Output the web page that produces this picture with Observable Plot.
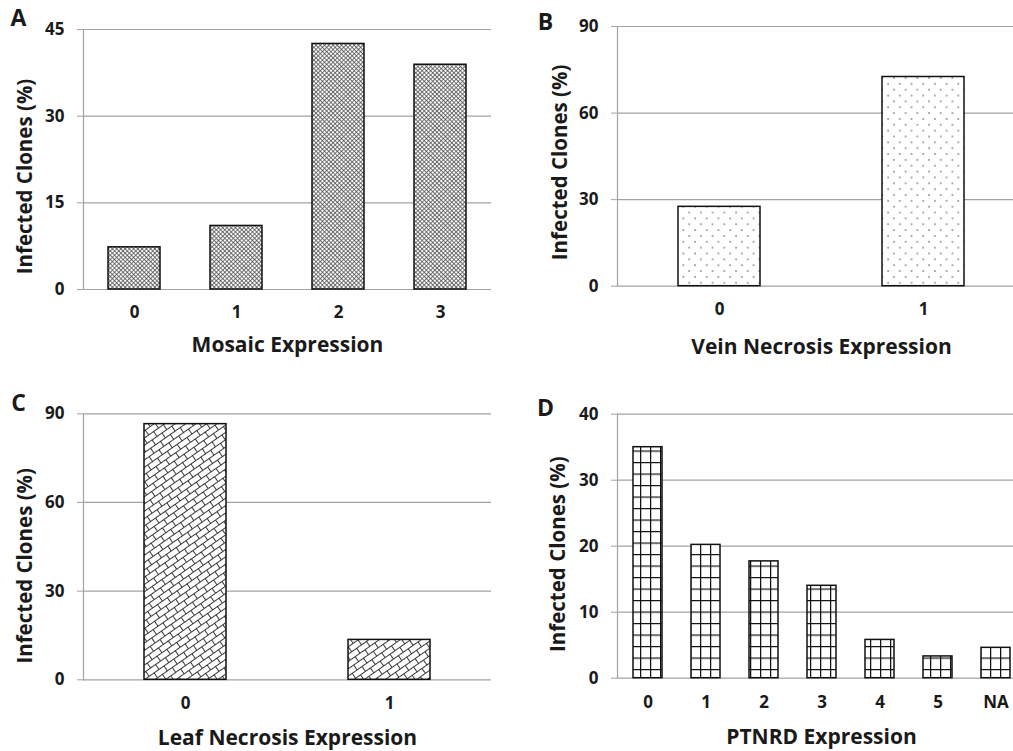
<!DOCTYPE html>
<html>
<head>
<meta charset="utf-8">
<script src="https://cdn.jsdelivr.net/npm/d3@7"></script>
<script src="https://cdn.jsdelivr.net/npm/@observablehq/plot@0.6"></script>
<style>
  html, body { margin: 0; padding: 0; background: #fff; overflow: hidden; }
  #wrap { position: relative; width: 1013px; height: 751px; overflow: hidden; }
  .panel { position: absolute; }
  .panel svg { overflow: hidden; max-width: none !important; }
</style>
</head>
<body>
<svg width="0" height="0" style="position:absolute">
  <defs>
    <pattern id="patA" patternUnits="userSpaceOnUse" width="3" height="3" patternTransform="rotate(45)">
      <rect width="3" height="3" fill="#fff"/>
      <path d="M0,0H3M0,0V3" stroke="#444" stroke-width="1.4"/>
    </pattern>
    <pattern id="patB" patternUnits="userSpaceOnUse" width="11.7" height="11.7">
      <rect width="11.7" height="11.7" fill="#fff"/>
      <circle cx="2" cy="2" r="0.75" fill="#333"/>
      <circle cx="7.85" cy="7.85" r="0.75" fill="#333"/>
    </pattern>
    <pattern id="patC" patternUnits="userSpaceOnUse" width="12" height="12" patternTransform="rotate(-35)">
      <rect width="12" height="12" fill="#fff"/>
      <path d="M0,0.5H12M0,6.5H12M0.5,0.5V6.5M6.5,6.5V12.5" stroke="#222" stroke-width="0.9" fill="none"/>
    </pattern>
    <pattern id="patD" patternUnits="userSpaceOnUse" width="10" height="11.5">
      <rect width="10" height="11.5" fill="#fff"/>
      <path d="M0,0.6H10M0.6,0V11.5" stroke="#111" stroke-width="1.3" fill="none"/>
    </pattern>
  </defs>
</svg>
<div id="wrap"></div>
<script>
// ---- data ----
const mosaicCats = ["0", "1", "2", "3"];
const mosaicVals = [7.3, 11.0, 42.5, 38.9];
const mosaicTicks = [0, 15, 30, 45];

const veinCats = ["0", "1"];
const veinVals = [27.5, 72.5];
const veinTicks = [0, 30, 60, 90];

const leafCats = ["0", "1"];
const leafVals = [86.5, 13.5];
const leafTicks = [0, 30, 60, 90];

const ptnrdCats = ["0", "1", "2", "3", "4", "5", "NA"];
const ptnrdVals = [35.0, 20.2, 17.7, 14.0, 5.8, 3.3, 4.6];
const ptnrdTicks = [0, 10, 20, 30, 40];

const yLabel = "Infected Clones (%)";

const FONT = "'Open Sans', Lato, sans-serif";
const GRID = "#a3a3a3";

function panel(opts) {
  const data = opts.cats.map((c, i) => ({cat: c, val: opts.vals[i]}));
  const ticks = opts.ticks;
  const chart = Plot.plot({
    width: opts.width,
    height: opts.height,
    marginLeft: opts.ml,
    marginRight: opts.mr,
    marginTop: opts.mt,
    marginBottom: opts.mb,
    style: {fontFamily: FONT, fontWeight: "bold", color: "#1a1a1a", background: "transparent", maxWidth: "none"},
    x: {domain: opts.cats, paddingInner: opts.pin, paddingOuter: opts.pin / 2},
    y: {domain: [0, ticks[ticks.length - 1]]},
    marks: [
      Plot.ruleY(ticks, {stroke: GRID, strokeWidth: 1.2}),
      Plot.frame({anchor: "left", stroke: GRID, strokeWidth: 1.2}),
      Plot.barY(data, {x: "cat", y: "val", fill: opts.fill, stroke: "#111", strokeWidth: 1.5}),
      Plot.axisY({ticks, tickSize: 6, tickPadding: 13, stroke: GRID, label: null, fontSize: 17, tickFormat: d => String(d)}),
      Plot.axisX({tickSize: 0, tickPadding: opts.xpad, label: null, fontSize: 17}),
      Plot.text([opts.title], {frameAnchor: "bottom", lineAnchor: "middle", textAnchor: "middle", dy: opts.titleDy, fontSize: 21, fontWeight: "bold"}),
      Plot.text([yLabel], {frameAnchor: "left", textAnchor: "middle", lineAnchor: "middle", rotate: -90, dx: opts.ylDx, dy: opts.ylDy, fontSize: 20.5, fontWeight: "bold"}),
      Plot.text([opts.letter], {frameAnchor: "top-left", textAnchor: "middle", lineAnchor: "middle", dx: opts.letDx, dy: opts.letDy, fontSize: 23, fontWeight: "bold"})
    ]
  });
  const div = document.createElement("div");
  div.className = "panel";
  div.style.left = opts.left + "px";
  div.style.top = opts.top + "px";
  div.style.width = opts.width + "px";
  div.style.height = opts.height + "px";
  div.appendChild(chart);
  document.getElementById("wrap").appendChild(div);
}

panel({cats: mosaicCats, vals: mosaicVals, ticks: mosaicTicks, fill: "url(#patA)",
  title: "Mosaic Expression", letter: "A",
  left: 0, top: 0, width: 500, height: 370, ml: 83, mr: 9, mt: 29, mb: 81, pin: 0.49,
  xpad: 16, titleDy: 56, ylDx: -58, ylDy: 17, letDx: -65, letDy: -11});

panel({cats: veinCats, vals: veinVals, ticks: veinTicks, fill: "url(#patB)",
  title: "Vein Necrosis Expression", letter: "B",
  left: 500, top: 0, width: 530, height: 370, ml: 117, mr: 5, mt: 26, mb: 84.3, pin: 0.6,
  xpad: 17, titleDy: 61, ylDx: -57, ylDy: 6, letDx: -72, letDy: -4});

panel({cats: leafCats, vals: leafVals, ticks: leafTicks, fill: "url(#patC)",
  title: "Leaf Necrosis Expression", letter: "C",
  left: 0, top: 370, width: 500, height: 381, ml: 83, mr: 9, mt: 43.3, mb: 71.7, pin: 0.6,
  xpad: 17, titleDy: 58, ylDx: -58, ylDy: 19, letDx: -65, letDy: -10});

panel({cats: ptnrdCats, vals: ptnrdVals, ticks: ptnrdTicks, fill: "url(#patD)",
  title: "PTNRD Expression", letter: "D",
  left: 500, top: 370, width: 530, height: 381, ml: 117, mr: 5, mt: 43.7, mb: 73.3, pin: 0.5,
  xpad: 18, titleDy: 59, ylDx: -59, ylDy: 8, letDx: -72, letDy: -6});
</script>
</body>
</html>
